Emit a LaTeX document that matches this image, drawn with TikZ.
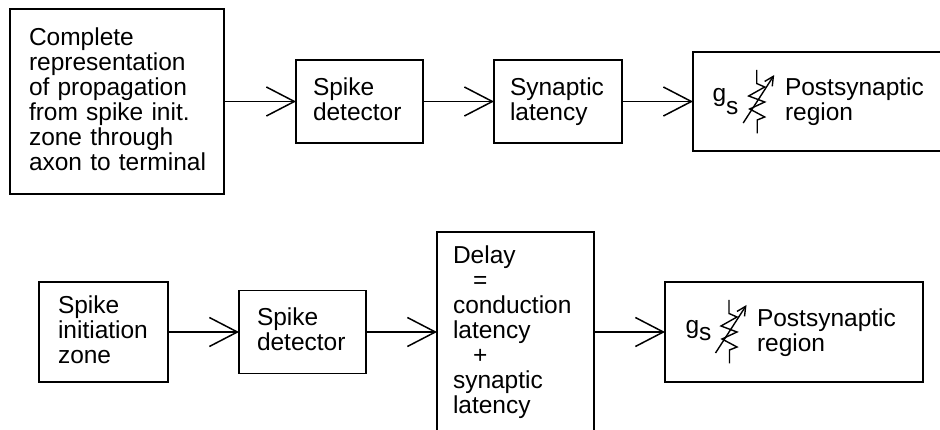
\documentclass[tikz,border=0pt]{standalone}
\usepackage{fontspec}
\setmainfont{Liberation Sans}
\usetikzlibrary{arrows.meta}
\tikzset{
  box/.style={draw=black,line width=1.5pt,inner sep=0pt,outer sep=0pt,align=left,fill=white},
  lbl/.style={inner sep=0pt,outer sep=0pt,align=left,anchor=west},
  conn/.style={line width=1.5pt,-{Straight Barb[length=28pt,width=29pt,line width=1.5pt]}},
  varres/.pic={
    \draw[line width=1.4pt,line join=miter] (0,0) -- (0,13.5) -- (8,17) -- (-8,26) -- (8,32) -- (-7,39) -- (8,47) -- (0.5,50) -- (0.5,63.5);
    \draw[line width=1.4pt,-{Straight Barb[length=9pt,width=9pt,line width=1.4pt]}] (-13.5,53) -- (17.5,5);
  }
}
\newcommand{\fsz}{\fontsize{24.5pt}{25pt}\selectfont}
\newcommand{\gsub}[1]{g\raisebox{-#1pt}{s}}
\begin{document}
\begin{tikzpicture}[x=1pt,y=-1pt,every node/.append style={font=\fsz}]
\useasboundingbox (0,0) rectangle (940,430);
% top row
\node[box,minimum width=214pt,minimum height=185pt,text width=176pt] (a1) at (117,101.5) {Complete\\representation\\of propagation\\from spike init.\\zone through\\\mbox{axon to terminal}\vphantom{y}};
\node[box,minimum width=127pt,minimum height=83pt,text width=93pt] (b1) at (359.5,101.5) {Spike\\detector\vphantom{y}};
\node[box,minimum width=128pt,minimum height=83pt,text width=96pt] (c1) at (558,101.5) {Synaptic\\latency};
\node[box,minimum width=252pt,minimum height=99pt] (d1) at (819,101.5) {};
\node[lbl] (g1) at (712.5,101.5) {\gsub{13.5}};
\node[lbl] (r1) at (785,101.5) {Postsynaptic\\region};
\pic at (756.7,70) {varres};
\draw[conn] (a1) -- (b1);
\draw[conn] (b1) -- (c1);
\draw[conn] (c1) -- (d1);
% bottom row
\node[box,minimum width=129pt,minimum height=100pt,text width=91pt] (a2) at (103.5,332) {Spike\\initiation\\zone\vphantom{y}};
\node[box,minimum width=127pt,minimum height=83pt,text width=91pt] (b2) at (302.5,332) {Spike\\detector\vphantom{y}};
\node[box,minimum width=157pt,minimum height=200pt,text width=125pt] (c2) at (515.5,332) {Delay\\\hspace*{20pt}=\\conduction\\latency\\\hspace*{20pt}+\\synaptic\\latency};
\node[box,minimum width=258pt,minimum height=100pt] (d2) at (794,332) {};
\node[lbl] (g2) at (685.5,331) {\gsub{7}};
\node[lbl] (r2) at (757,333) {Postsynaptic\\region};
\pic at (729,300) {varres};
\draw[conn] (a2) -- (b2);
\draw[conn] (b2) -- (c2);
\draw[conn] (c2) -- (d2);
\end{tikzpicture}
\end{document}
